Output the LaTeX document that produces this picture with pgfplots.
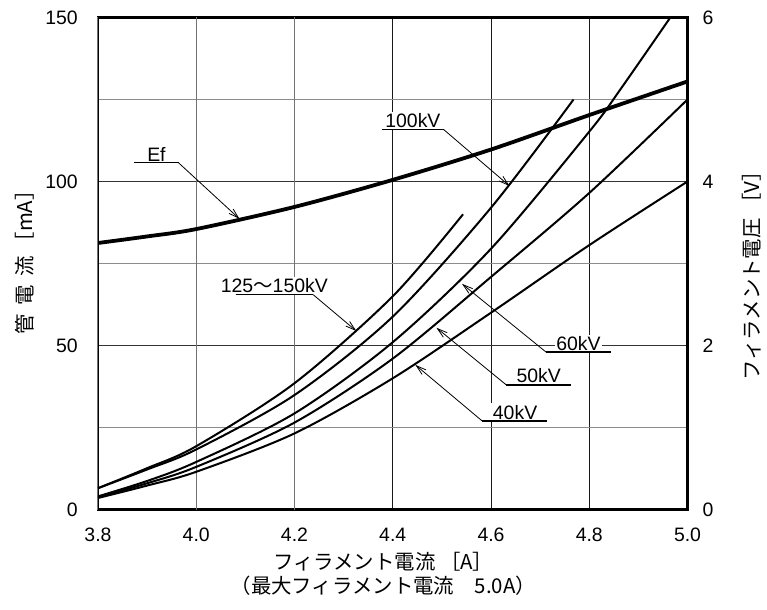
\documentclass[border=0pt]{standalone}
\usepackage{fontspec}
\setmainfont{Liberation Sans}
\newfontfamily\cjk{Noto Sans CJK JP}
\usepackage{pgfplots}
\usepackage{pgfplotstable}
\pgfplotsset{compat=1.18}
\usetikzlibrary{arrows.meta}

\pgfplotstableread{
x y
3.8 3.5
3.9 7.3
4.0 11.5
4.2 23.2
4.4 40.0
4.6 60.0
4.8 80.6
5.0 100
}\kvforty
\pgfplotstableread{
x y
3.8 3.8
3.9 8.0
4.0 13.0
4.2 26.5
4.4 46.0
4.6 70.9
4.8 96.5
5.0 125
}\kvfifty
\pgfplotstableread{
x y
3.8 4.0
3.9 8.7
4.0 14.5
4.2 29.3
4.4 51.0
4.6 79.5
4.8 115.2
4.863 128
4.965 150
}\kvsixty
\pgfplotstableread{
x y
3.8 6.5
3.9 12.2
4.0 18.3
4.2 34.9
4.4 58.8
4.6 92.0
4.768 125
}\kvhundred
\pgfplotstableread{
x y
3.8 6.5
3.9 12.6
4.0 19.3
4.2 38.5
4.4 65.0
4.543 90
}\kvtop
\pgfplotstableread{
x y
3.8 3.25
3.9 3.33
4.0 3.42
4.2 3.69
4.4 4.02
4.6 4.39
4.8 4.81
5.0 5.22
}\efdata

\def\fs{\fontsize{19.5}{23}\selectfont}
\def\cfs{\cjk\fontsize{20.5}{24}\selectfont}

\begin{document}
\begin{tikzpicture}
\path[use as bounding box] (-98bp,-100.5bp) rectangle (669bp,509.5bp);
\begin{axis}[
  scale only axis, width=589.5bp, height=492bp,
  xmin=3.8, xmax=5.0, ymin=0, ymax=150,
  xtick={4.4,4.6,4.8}, xticklabels={4.4,4.6,4.8},
  extra x ticks={3.8,4.0,4.2,5.0}, extra x tick labels={3.8,4.0,4.2,5.0},
  extra x tick style={grid=major, major x grid style={black!55, line width=1bp}},
  ytick={0,50,100,150}, yticklabels={0,50,100,150},
  minor ytick={25,75,125},
  ytick pos=left,
  xmajorgrids, ymajorgrids, yminorgrids,
  major x grid style={black!90, line width=1bp},
  major y grid style={black!80, line width=1.6bp},
  minor y grid style={black!45, line width=1.6bp},
  major tick length=0pt, minor tick length=0pt,
  axis line style={line width=2.2bp},
  tick label style={font=\fs},
  x tick label style={anchor=north, inner sep=0pt, yshift=-18bp},
  y tick label style={anchor=east, inner sep=0pt, xshift=-20bp},
  xlabel={フィラメント電流 ［A］\\（最大フィラメント電流　5.0A）},
  xlabel style={at={(axis description cs:0.484,0)}, anchor=north, yshift=-43bp,
    align=center, inner sep=0pt, font=\cfs},
  ylabel={管\hspace{0.4em}電\hspace{0.4em}流\hspace{0.2em}［mA］},
  ylabel style={at={(axis description cs:-0.1238,0.513)}, anchor=center,
    inner sep=0pt, font=\cfs},
]
\addplot[black, line width=2bp, smooth] table {\kvforty};
\addplot[black, line width=2bp, smooth] table {\kvfifty};
\addplot[black, line width=2bp, smooth] table {\kvsixty};
\addplot[black, line width=2bp, smooth] table {\kvhundred};
\addplot[black, line width=2bp, smooth] table {\kvtop};

% labels
\node[anchor=south, inner sep=1.5bp, fill=white, font=\fs] at (axis cs:3.919,105.7) {Ef};
\node[anchor=south, inner sep=1.5bp, fill=white, font=\fs] at (axis cs:4.441,115.8) {100kV};
\node[anchor=south, inner sep=1.5bp, fill=white, font=\fs] at (axis cs:4.159,65.5) {125{\cjk ～}150kV};
\node[anchor=south, inner sep=1.5bp, fill=white, font=\fs] at (axis cs:4.778,48) {60kV};
\node[anchor=south, inner sep=1.5bp, fill=white, font=\fs] at (axis cs:4.697,38) {50kV};
\node[anchor=south, inner sep=1.5bp, fill=white, font=\fs] at (axis cs:4.649,27) {40kV};

\draw[line width=1.3bp] (axis cs:3.874,105.7) -- (axis cs:3.964,105.7);
\draw[line width=0.8bp, -{Straight Barb[length=10bp,width=6bp]}] (axis cs:3.964,105.7) -- (axis cs:4.088,88.6);
\draw[line width=1.3bp] (axis cs:4.378,115.8) -- (axis cs:4.504,115.8);
\draw[line width=0.8bp, -{Straight Barb[length=10bp,width=6bp]}] (axis cs:4.504,115.8) -- (axis cs:4.638,98.6);
\draw[line width=1.3bp] (axis cs:4.08,65.5) -- (axis cs:4.238,65.5);
\draw[line width=0.8bp, -{Straight Barb[length=10bp,width=6bp]}] (axis cs:4.238,65.5) -- (axis cs:4.326,54.4);
\draw[line width=1.3bp] (axis cs:4.712,48) -- (axis cs:4.844,48);
\draw[line width=0.8bp, -{Straight Barb[length=10bp,width=6bp]}] (axis cs:4.712,48) -- (axis cs:4.541,68.8);
\draw[line width=1.3bp] (axis cs:4.631,38) -- (axis cs:4.762,38);
\draw[line width=0.8bp, -{Straight Barb[length=10bp,width=6bp]}] (axis cs:4.631,38) -- (axis cs:4.489,55.4);
\draw[line width=1.3bp] (axis cs:4.582,27) -- (axis cs:4.715,27);
\draw[line width=0.8bp, -{Straight Barb[length=10bp,width=6bp]}] (axis cs:4.582,27) -- (axis cs:4.446,44.1);
\end{axis}

\begin{axis}[
  scale only axis, width=589.5bp, height=492bp,
  xmin=3.8, xmax=5.0, ymin=0, ymax=6,
  axis x line=none, axis y line*=right,
  ytick={0,2,4,6}, yticklabels={0,2,4,6},
  major tick length=0pt,
  axis line style={line width=2.2bp},
  tick label style={font=\fs},
  y tick label style={anchor=west, inner sep=0pt, xshift=15bp},
  ylabel={フィラメント電圧 ［V］},
  ylabel style={at={(axis description cs:1.1094,0.485)}, anchor=center,
    inner sep=0pt, font=\cfs},
]
\addplot[black, line width=3.8bp, smooth] table {\efdata};
\end{axis}
\end{tikzpicture}
\end{document}
